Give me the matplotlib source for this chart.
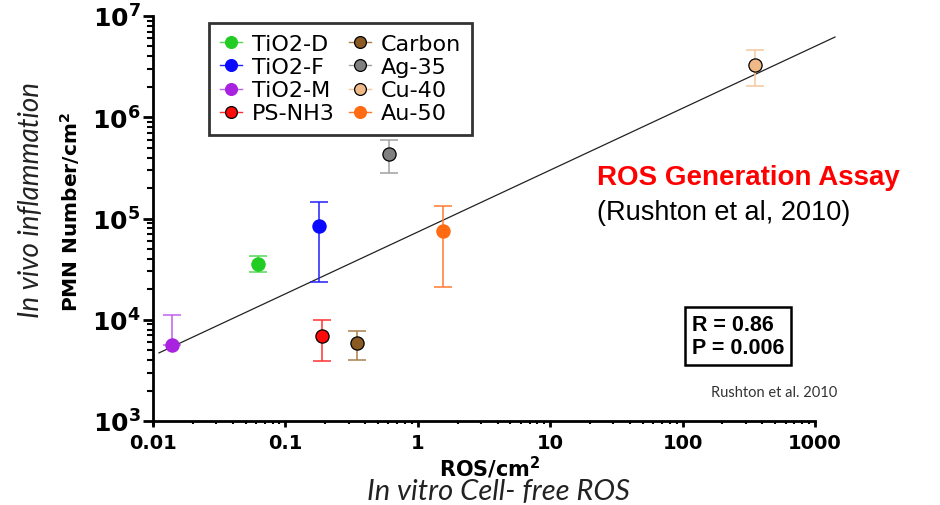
import numpy as np
import matplotlib
matplotlib.use("Agg")
import matplotlib.pyplot as plt
from matplotlib.lines import Line2D
from matplotlib.ticker import LogLocator, FixedFormatter, FixedLocator, NullFormatter

# ---------------- data ----------------
names = ['TiO2-D', 'TiO2-F', 'TiO2-M', 'PS-NH3', 'Carbon', 'Ag-35', 'Cu-40', 'Au-50']
ros = [0.062, 0.18, 0.014, 0.19, 0.35, 0.61, 350, 1.55]
pmn = [35500, 84000, 5600, 6900, 5900, 437000, 3.3e6, 76000]
err_low = [29500, 23500, 5600, 3900, 4000, 280000, 2.05e6, 21000]
err_high = [42500, 145000, 11200, 9900, 7700, 600000, 4.6e6, 132000]
colors = ['#22cc22', '#0a0aff', '#a822e0', '#ff0a0a', '#8b5a22', '#808080', '#f0b988', '#ff6a12']
edge_colors = ['#22cc22', '#0a0aff', '#a822e0', '#000000', '#000000', '#000000', '#000000', '#ff6a12']
err_colors = ['#55d855', '#2020ff', '#c060ee', '#ff3030', '#a88050', '#a0a0a0', '#f5c8a0', '#ff7a30']

fit_slope = 0.611
fit_intercept = 4.867
fit_x_range = [0.0111, 1416]

x_ticks = [0.01, 0.1, 1, 10, 100, 1000]
x_tick_labels = ['0.01', '0.1', '1', '10', '100', '1000']
y_ticks = [1e3, 1e4, 1e5, 1e6, 1e7]
y_tick_labels = [r'$\mathbf{10^{3}}$', r'$\mathbf{10^{4}}$', r'$\mathbf{10^{5}}$',
                 r'$\mathbf{10^{6}}$', r'$\mathbf{10^{7}}$']

r_text = 'R = 0.86\nP = 0.006'

# ---------------- figure ----------------
W, H = 940, 506
fig = plt.figure(figsize=(W / 100, H / 100), dpi=100)
plt.rcParams['mathtext.fontset'] = 'dejavusans'

def fx(px):
    return px / W

def fy(py):
    return 1 - py / H

ax = fig.add_axes([fx(153), fy(422), (815 - 153) / W, (422 - 17) / H])
ax.set_xscale('log')
ax.set_yscale('log')
ax.set_xlim(0.01, 1000)
ax.set_ylim(1e3, 1e7)

# regression line
xl = np.logspace(np.log10(fit_x_range[0]), np.log10(fit_x_range[1]), 50)
yl = 10 ** (fit_intercept + fit_slope * np.log10(xl))
ax.plot(xl, yl, color='#222222', lw=0.9, zorder=2, clip_on=False)

# points with error bars
for i, n in enumerate(names):
    lo = pmn[i] - err_low[i]
    hi = err_high[i] - pmn[i]
    ax.errorbar([ros[i]], [pmn[i]], yerr=[[lo], [hi]], fmt='none',
                ecolor=err_colors[i], elinewidth=1.1, capsize=6.5, capthick=1.1, zorder=3)
    ax.plot([ros[i]], [pmn[i]], 'o', ms=9.5, mfc=colors[i], mec=edge_colors[i],
            mew=0.9, zorder=4)

# spines / ticks
for s in ['top', 'right']:
    ax.spines[s].set_visible(False)
for s in ['left', 'bottom']:
    ax.spines[s].set_linewidth(2.0)
ax.spines['left'].set_bounds(10 ** 2.97, 1e7)

ax.xaxis.set_major_locator(FixedLocator(x_ticks))
ax.xaxis.set_major_formatter(FixedFormatter(x_tick_labels))
ax.xaxis.set_minor_locator(LogLocator(base=10, subs=np.arange(2, 10), numticks=20))
ax.xaxis.set_minor_formatter(NullFormatter())
ax.yaxis.set_major_locator(FixedLocator(y_ticks))
ax.yaxis.set_major_formatter(FixedFormatter(y_tick_labels))
ax.yaxis.set_minor_locator(LogLocator(base=10, subs=np.arange(2, 10), numticks=20))
ax.yaxis.set_minor_formatter(NullFormatter())

ax.tick_params(axis='x', which='major', direction='out', length=4, width=2, pad=5)
ax.tick_params(axis='x', which='minor', direction='out', length=2.5, width=1.5)
ax.tick_params(axis='y', which='major', direction='out', length=7, width=2, pad=2)
ax.tick_params(axis='y', which='minor', direction='out', length=4.5, width=1.5)
for lab in ax.get_xticklabels():
    lab.set_fontsize(14)
    lab.set_fontweight('bold')
    lab.set_family('DejaVu Sans')
for lab in ax.get_yticklabels():
    lab.set_fontsize(18)

# legend
handles = [Line2D([0], [0], color=err_colors[i], lw=1.0, marker='o', ms=8.5,
                  mfc=colors[i], mec=edge_colors[i], mew=0.9) for i in range(len(names))]
leg = ax.legend(handles, names, ncol=2, loc='upper left',
                bbox_to_anchor=((209 - 153) / 662, (422 - 24) / 405),
                borderaxespad=0, frameon=True, fancybox=False,
                prop={'family': 'DejaVu Sans', 'size': 16},
                handlelength=1.0, handletextpad=0.45, columnspacing=0.6,
                labelspacing=0.14, borderpad=0.5)
leg.get_frame().set_edgecolor('black')
leg.get_frame().set_linewidth(2.0)

# axis titles
fig.text(fx(70), fy(212), r'PMN Number/cm$^{\mathbf{2}}$', rotation=90, ha='center', va='center',
         fontsize=14.5, fontweight='bold', family='DejaVu Sans')
fig.text(fx(31), fy(200), 'In vivo inflammation', rotation=90, ha='center', va='center',
         fontsize=20, style='italic', family=['Lato', 'DejaVu Sans'], color='#222222')
fig.text(fx(490), fy(468), r'ROS/cm$^{\mathbf{2}}$', ha='center', va='center',
         fontsize=15, fontweight='bold', family='DejaVu Sans')
fig.text(fx(498), fy(492), 'In vitro Cell- free ROS', ha='center', va='center',
         fontsize=21, style='italic', family=['Lato', 'DejaVu Sans'], color='#222222')

# annotations
fig.text(fx(597), fy(178), 'ROS Generation Assay', ha='left', va='center',
         fontsize=20, fontweight='bold', color='#ff0000', family='Liberation Sans')
fig.text(fx(597), fy(213), '(Rushton et al, 2010)', ha='left', va='center',
         fontsize=19.5, color='#000000', family='Liberation Sans')
fig.text(fx(692), fy(337), r_text, ha='left', va='center', fontsize=15.5,
         fontweight='bold', family='Liberation Sans', linespacing=1.1,
         bbox=dict(boxstyle='square,pad=0.33', fc='white', ec='black', lw=1.8))
fig.text(fx(774), fy(393), 'Rushton et al. 2010', ha='center', va='center',
         fontsize=10.5, color='#333333', family=['Lato', 'DejaVu Sans'])

fig.savefig('out.png', dpi=100)
